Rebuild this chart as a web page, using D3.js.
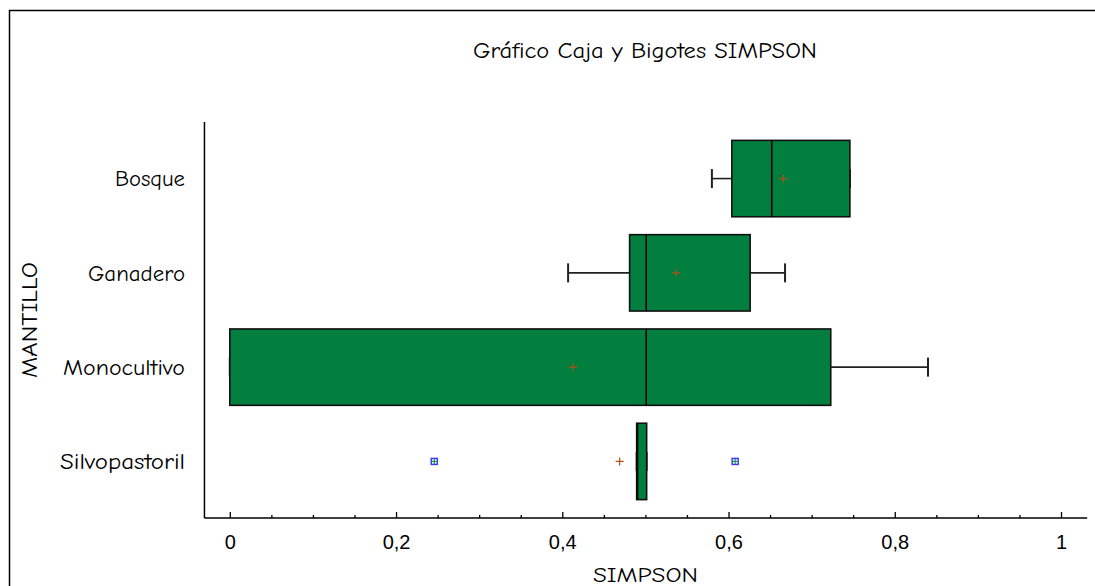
<!DOCTYPE html>
<html><head><meta charset="utf-8">
<script src="https://cdn.jsdelivr.net/npm/d3@7"></script>
<style>
body{margin:0;background:#fff;}
svg{display:block;}
.lbl{font-family:"Comic Sans MS","Comic Neue","Open Sans",sans-serif;}
</style></head><body>
<svg id="c" width="1095" height="586"></svg>
<script>
const categories = ["Bosque","Ganadero","Monocultivo","Silvopastoril"];
const q1 =          [0.604, 0.481, 0.000, 0.4895];
const medians =     [0.652, 0.501, 0.501, 0.4905];
const q3 =          [0.746, 0.626, 0.723, 0.5015];
const whiskerLow =  [0.580, 0.407, 0.000, 0.4895];
const whiskerHigh = [0.746, 0.668, 0.840, 0.5015];
const means =       [0.666, 0.537, 0.413, 0.469];
const outlierCat =  ["Silvopastoril","Silvopastoril"];
const outlierVal =  [0.246, 0.608];
const majorTicks = [0,0.2,0.4,0.6,0.8,1];
const majorTickLabels = ["0","0,2","0,4","0,6","0,8","1"];
const minorTicks = [0.05,0.1,0.15,0.25,0.3,0.35,0.45,0.5,0.55,0.65,0.7,0.75,0.85,0.9,0.95];
const catLabelWidths = [70, 97, 122, 125];

const svg = d3.select("#c");
const tickFont = '"Liberation Sans", Arial, sans-serif';

// outer frame
svg.append("rect").attr("x",9.5).attr("y",10.5).attr("width",1200).attr("height",700)
  .attr("fill","none").attr("stroke","#000").attr("stroke-width",1.5);

const x = d3.scaleLinear().domain([0,1]).range([229.8,1061]);
const y = d3.scalePoint().domain(categories).range([122,518]).padding(0.6);
const step = y.step();
const bh = step*0.81;
const axisY = 518;

// axes lines
svg.append("line").attr("x1",x(-0.0305)).attr("x2",x(1.0315)).attr("y1",axisY).attr("y2",axisY)
  .attr("stroke","#000").attr("stroke-width",1.5);
svg.append("line").attr("x1",x(-0.0305)).attr("x2",x(-0.0305)).attr("y1",122).attr("y2",axisY)
  .attr("stroke","#000").attr("stroke-width",1.5);

const axMaj = d3.axisBottom(x).tickValues(majorTicks)
  .tickFormat((d,i)=>majorTickLabels[i]).tickSizeInner(-6).tickSizeOuter(0).tickPadding(17);
const gMaj = svg.append("g").attr("transform",`translate(0,${axisY})`).call(axMaj);
gMaj.select(".domain").remove();
gMaj.selectAll("line").attr("stroke","#000").attr("stroke-width",1.3);
gMaj.selectAll("text").attr("font-family",tickFont).attr("font-size",20).attr("fill","#000");

const axMin = d3.axisBottom(x).tickValues(minorTicks).tickFormat("").tickSizeInner(-3).tickSizeOuter(0);
const gMin = svg.append("g").attr("transform",`translate(0,${axisY})`).call(axMin);
gMin.select(".domain").remove();
gMin.selectAll("line").attr("stroke","#000").attr("stroke-width",1.3);

// category labels
svg.append("g").selectAll("text").data(categories).join("text")
  .attr("class","lbl").attr("x",185).attr("y",d=>y(d)).attr("dy","0.36em")
  .attr("text-anchor","end").attr("font-size",22).attr("fill","#000")
  .attr("textLength",(d,i)=>catLabelWidths[i]).attr("lengthAdjust","spacingAndGlyphs").text(d=>d);

// title
svg.append("text").attr("class","lbl").attr("x",645).attr("y",58).attr("text-anchor","middle")
  .attr("font-size",22).attr("fill","#000").attr("textLength",344).attr("lengthAdjust","spacingAndGlyphs")
  .text("Gráfico Caja y Bigotes SIMPSON");
// x label
svg.append("text").attr("class","lbl").attr("x",645.5).attr("y",582).attr("text-anchor","middle")
  .attr("font-size",21).attr("fill","#000").attr("textLength",105).attr("lengthAdjust","spacingAndGlyphs")
  .text("SIMPSON");
// y label
svg.append("text").attr("class","lbl").attr("transform","translate(37,320) rotate(-90)")
  .attr("text-anchor","middle").attr("font-size",22).attr("fill","#000")
  .attr("textLength",116).attr("lengthAdjust","spacingAndGlyphs").text("MANTILLO");

const data = categories.map((c,i)=>({c,q1:q1[i],med:medians[i],q3:q3[i],lo:whiskerLow[i],hi:whiskerHigh[i],mean:means[i]}));
const capH = 19;
const g = svg.append("g");
data.forEach(d=>{
  const cy = y(d.c);
  g.append("line").attr("x1",x(d.lo)).attr("x2",x(d.q1)).attr("y1",cy).attr("y2",cy).attr("stroke","#222").attr("stroke-width",1.6);
  g.append("line").attr("x1",x(d.q3)).attr("x2",x(d.hi)).attr("y1",cy).attr("y2",cy).attr("stroke","#222").attr("stroke-width",1.6);
  g.append("line").attr("x1",x(d.lo)).attr("x2",x(d.lo)).attr("y1",cy-capH/2).attr("y2",cy+capH/2).attr("stroke","#222").attr("stroke-width",2);
  g.append("line").attr("x1",x(d.hi)).attr("x2",x(d.hi)).attr("y1",cy-capH/2).attr("y2",cy+capH/2).attr("stroke","#222").attr("stroke-width",2);
  g.append("rect").attr("x",x(d.q1)).attr("y",cy-bh/2).attr("width",x(d.q3)-x(d.q1)).attr("height",bh)
    .attr("fill","#027f3f").attr("stroke","#111").attr("stroke-width",1.6);
  g.append("line").attr("x1",x(d.med)).attr("x2",x(d.med)).attr("y1",cy-bh/2).attr("y2",cy+bh/2).attr("stroke","#000").attr("stroke-width",1.6);
  const mx = x(d.mean);
  g.append("path").attr("d",`M${mx-4},${cy}H${mx+4}M${mx},${cy-4}V${cy+4}`).attr("stroke","#b0501a").attr("stroke-width",1.2).attr("fill","none");
});
outlierVal.forEach((v,i)=>{
  const ox = x(v), oy = y(outlierCat[i]);
  g.append("rect").attr("x",ox-3).attr("y",oy-3).attr("width",6).attr("height",6).attr("fill","none").attr("stroke","#3a3aff").attr("stroke-width",1.5);
  g.append("path").attr("d",`M${ox-2.5},${oy}H${ox+2.5}M${ox},${oy-2.5}V${oy+2.5}`).attr("stroke","#1a9a40").attr("stroke-width",1.2);
});
</script>
</body></html>
